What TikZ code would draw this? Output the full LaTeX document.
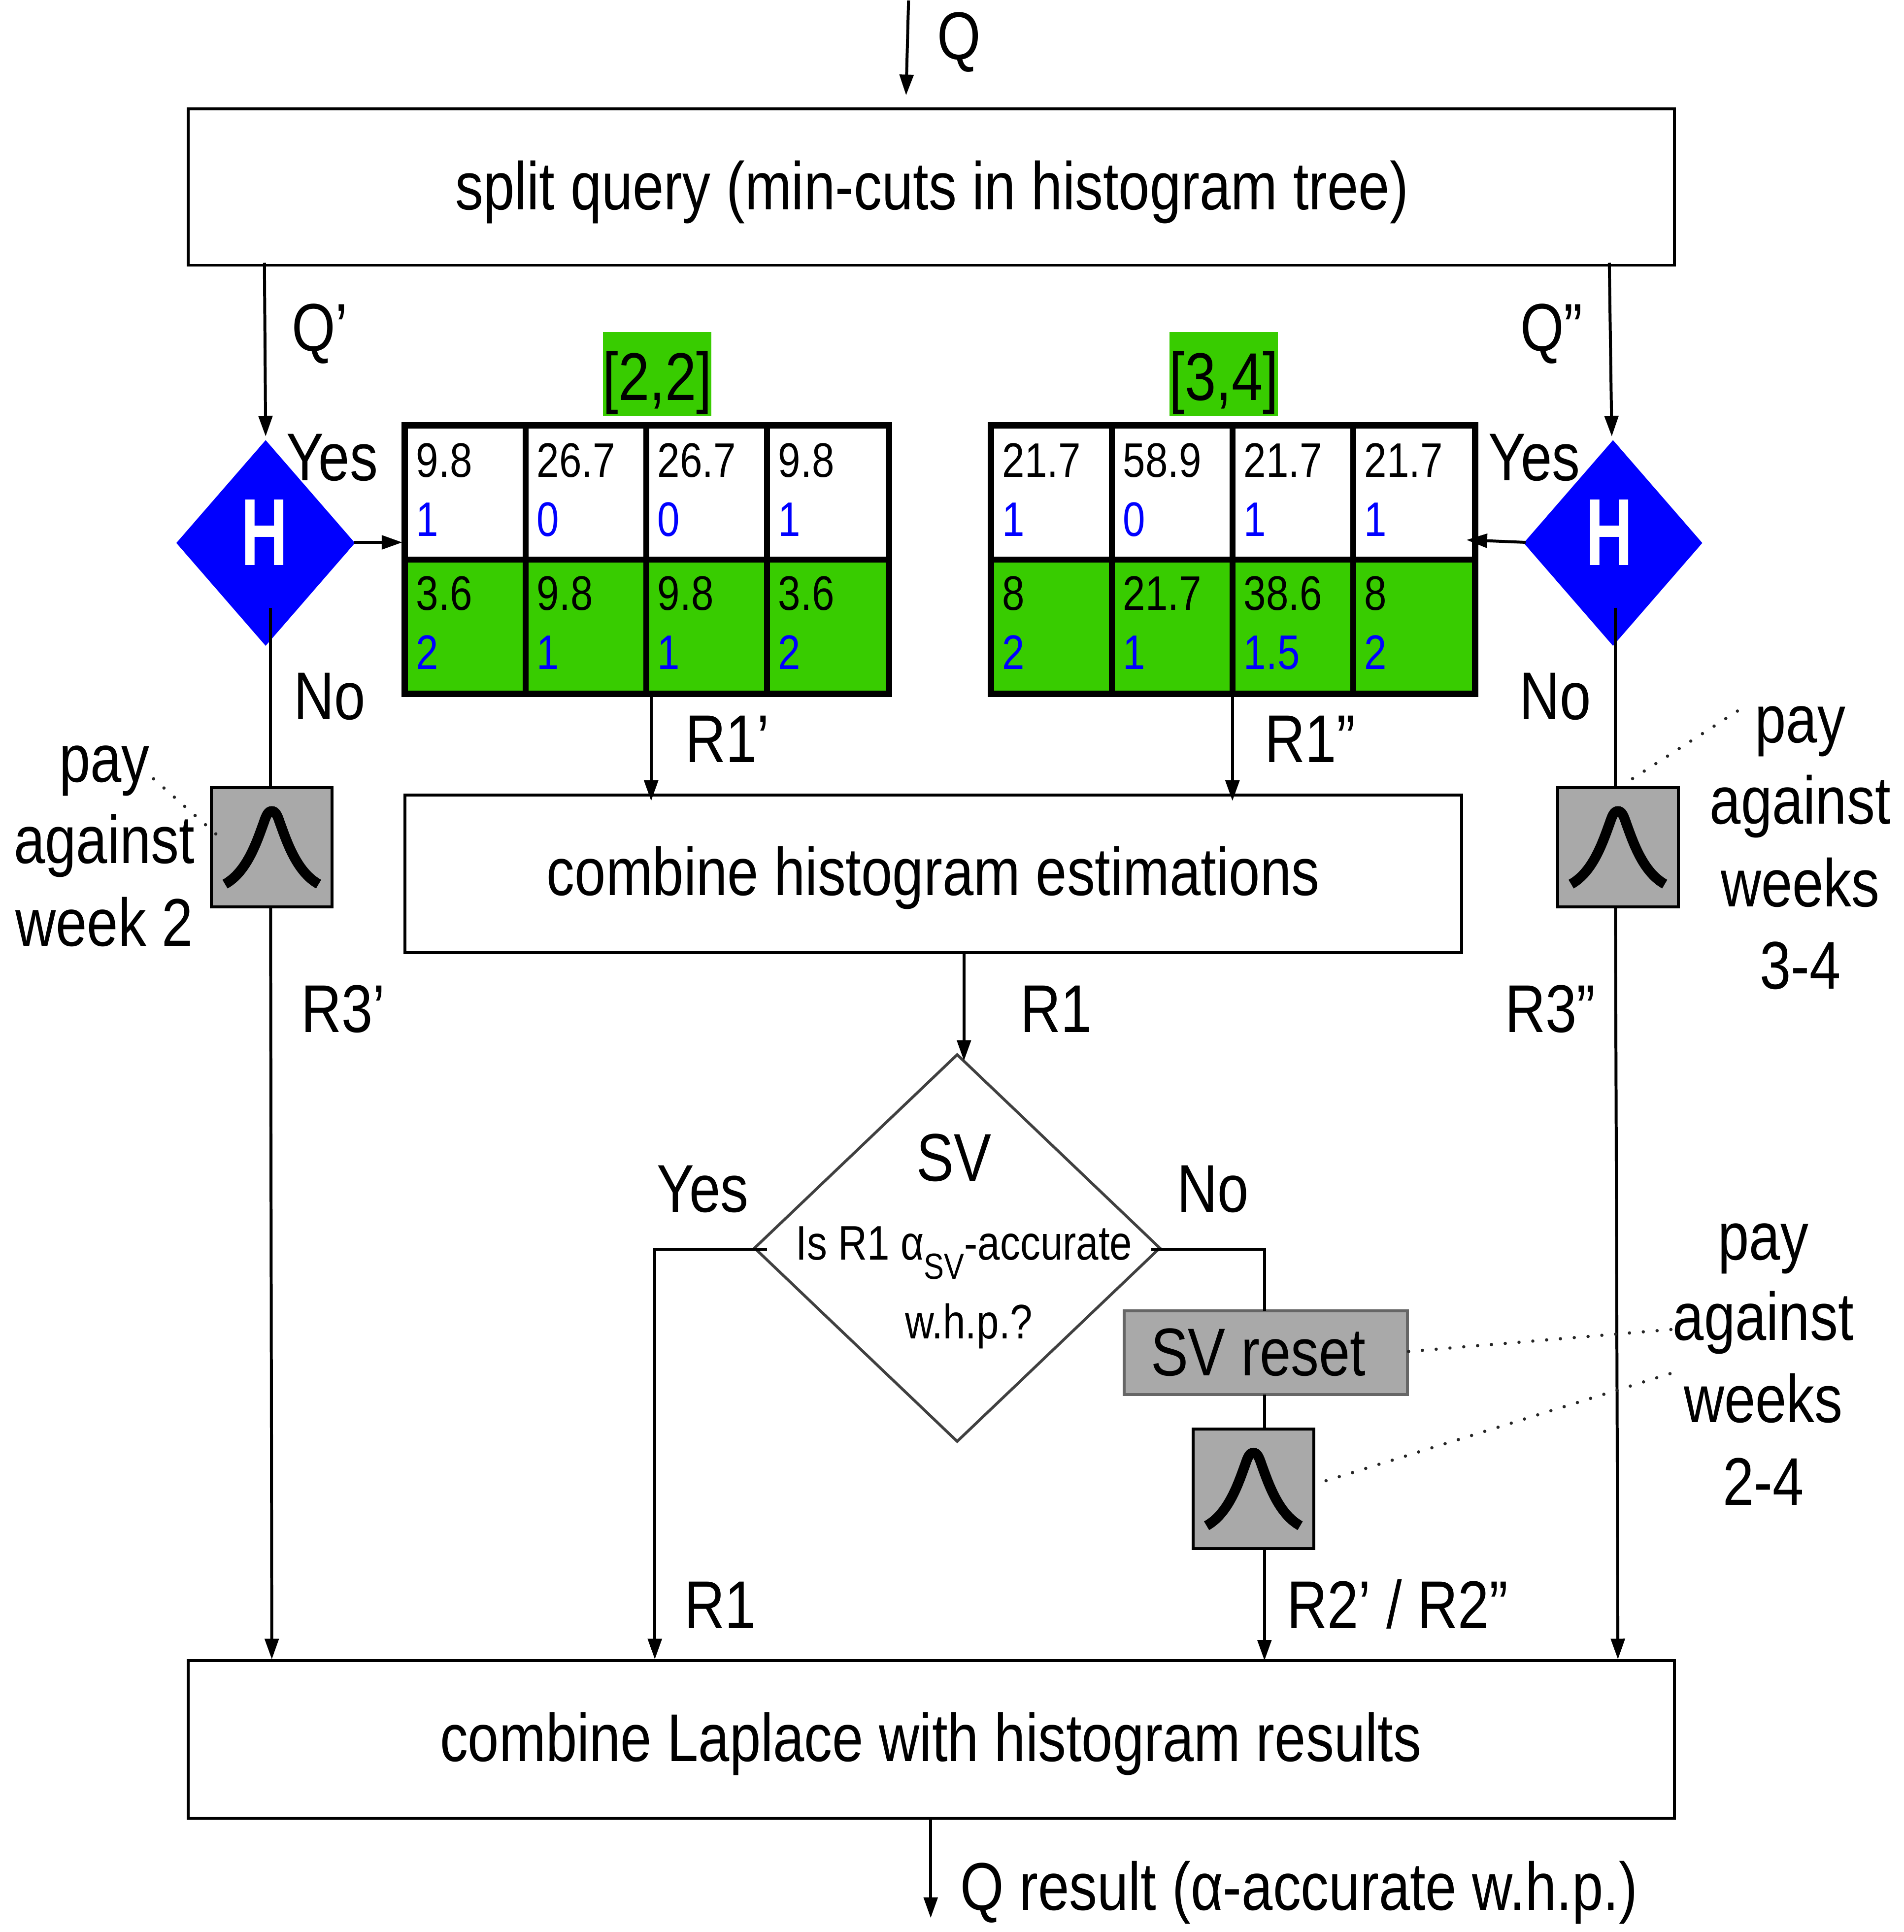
\documentclass[tikz,border=0pt]{standalone}
\usepackage{fontspec}
\setmainfont[FakeStretch=0.83]{Liberation Sans}
\newfontfamily\hfont[FakeStretch=0.68]{Liberation Sans Bold}
\usetikzlibrary{arrows.meta,shapes.geometric}
\definecolor{hgreen}{HTML}{38CC00}
\definecolor{lapgray}{HTML}{A9A9A9}
\newcommand{\bigf}{\fontsize{39}{39}\selectfont}
\newcommand{\midf}{\fontsize{28}{28}\selectfont}
\newcommand{\smf}{\fontsize{28}{28}\selectfont}
\tikzset{
  x=0.025cm,y=-0.025cm,
  conn/.style={line width=1.7pt,black},
  arr/.style={conn,-{Triangle[length=.42cm,width=.28cm]}},
  dots/.style={line width=1.9pt,line cap=round,dash pattern=on 0pt off 8pt,black!85},
  bigbox/.style={draw=black,line width=1.7pt,fill=white,rectangle,inner sep=0pt,outer sep=0pt},
  lapbox/.style={draw=black,line width=1.7pt,fill=lapgray,rectangle,inner sep=0pt,outer sep=0pt,minimum width=98*0.025cm,minimum height=97*0.025cm},
  lab/.style={inner sep=0pt,font=\bigf,text height=28pt,text depth=0pt,anchor=center,yshift=1.4pt},
  cell/.style={inner sep=0pt,font=\smf,text height=20pt,text depth=0pt,anchor=west},
  qtext/.style={inner sep=0pt,font=\midf,text height=20.8pt,text depth=0pt,anchor=center,yshift=0.7pt},
  hdiam/.style={diamond,fill=blue,inner sep=0pt,outer sep=0pt,minimum width=145*0.025cm,minimum height=167*0.025cm},
  tablebox/.style={rectangle,draw=black,line width=3.6pt,inner sep=0pt,outer sep=0pt,minimum width=393*0.025cm,minimum height=218*0.025cm},
  rangebox/.style={rectangle,fill=hgreen,inner sep=0pt,outer sep=0pt,minimum width=88*0.025cm,minimum height=68*0.025cm},
}
\newcommand{\lapcurve}[1]{%
  \begin{scope}[shift={(#1.center)}]
    \draw[line width=5.8pt,line cap=butt,black] (-38,30) .. controls (-20,20) and (-12,-5) .. (-6.5,-20)
      .. controls (-4.5,-26) and (-3,-29.2) .. (0,-29.2)
      .. controls (3,-29.2) and (4.5,-26) .. (6.5,-20)
      .. controls (12,-5) and (20,20) .. (38,30);
  \end{scope}}
\newcommand{\hist}[3]{% #1 name, #2 left x, #3 list
  \fill[hgreen] (#2,454) rectangle ++(393,109);
  \node[tablebox,anchor=north west] (#1) at (#2,345) {};
  \draw[line width=3.6pt] (#2,454) -- ++(393,0);
  \foreach \i in {98,196,294} \draw[line width=3.3pt] (#2+\i,345) -- (#2+\i,563);
  \foreach \i/\a/\b/\c/\d in {#3} {
    \node[cell] at (#2+98*\i+9,373) {\a};
    \node[cell,blue] at (#2+98*\i+9,421) {\b};
    \node[cell] at (#2+98*\i+9,481) {\c};
    \node[cell,blue] at (#2+98*\i+9,529) {\d};
  }}
\begin{document}
\begin{tikzpicture}
\useasboundingbox (0,0) rectangle (1545.6,1568.8);
\fill[white] (0,0) rectangle (1545.6,1568.8);
\begin{scope}[xshift=0.7*0.025cm,yshift=-0.4*0.025cm]

% boxes
\node[bigbox,anchor=north west,minimum width=1207*0.025cm,minimum height=127*0.025cm] (split) at (152,88) {};
\node[lab] at (756,152) {split query (min-cuts in histogram tree)};
\node[bigbox,anchor=north west,minimum width=858*0.025cm,minimum height=128*0.025cm] (combH) at (328,645) {};
\node[lab] at (757,709) {combine histogram estimations};
\node[bigbox,anchor=north west,minimum width=1207*0.025cm,minimum height=128*0.025cm] (combL) at (152,1348) {};
\node[lab] at (755,1412) {combine Laplace with histogram results};

% histogram tables
\hist{tL}{328}{0/9.8/1/3.6/2,1/26.7/0/9.8/1,2/26.7/0/9.8/1,3/9.8/1/3.6/2}
\hist{tR}{804}{0/21.7/1/8/2,1/58.9/0/21.7/1,2/21.7/1/38.6/1.5,3/21.7/1/8/2}
\node[rangebox] (rL) at (533,303) {};
\node[rangebox] (rR) at (993,303) {};
\node[lab] at (533,307) {[2,2]};
\node[lab] at (993,307) {[3,4]};

% H diamonds
\node[hdiam] (hL) at (215,440.5) {};
\node[hdiam] (hR) at (1309,440.5) {};
\node[inner sep=0pt,white,text height=39pt,text depth=0pt] (hLt) at (214,431) {\fontsize{55}{55}\hfont H};
\node[inner sep=0pt,white,text height=39pt,text depth=0pt] (hRt) at (1306,431) {\fontsize{55}{55}\hfont H};

% Laplace boxes
\node[lapbox,anchor=north west] (lapL) at (171,639) {};
\node[lapbox,anchor=north west] (lapR) at (1264,639) {};
\node[lapbox,anchor=north west] (lapM) at (968,1160) {};
\lapcurve{lapL}\lapcurve{lapR}\lapcurve{lapM}

% SV diamond
\node[diamond,draw=black!75,line width=1.6pt,fill=white,inner sep=0pt,outer sep=0pt,minimum width=329*0.025cm,minimum height=314*0.025cm] (sv) at (776.5,1013) {};
\node[lab] at (774,941) {SV};
\node[qtext] at (782,1009) {Is R1 α\raisebox{-11pt}{\fontsize{21}{21}\selectfont SV}-accurate};
\node[qtext] at (786,1073) {w.h.p.?};

% SV reset
\node[rectangle,draw=black!60,line width=1.6pt,fill=lapgray,inner sep=0pt,outer sep=0pt,anchor=north west,minimum width=230*0.025cm,minimum height=68*0.025cm] (reset) at (912,1064) {};
\node[lab] at (1021,1099) {SV reset};

% coordinates for connector free ends
\coordinate (qtop) at (737,0);
\coordinate (qin) at (735,77);
\coordinate (qoutEnd) at (755,1557);
\coordinate (hLin) at (215,354);
\coordinate (hRin) at (1308,354);
\coordinate (hLno) at (219,493);
\coordinate (hRno) at (1311,493);
\coordinate (hLtab) at (326,440);
\coordinate (hRtab) at (1190,438);
\coordinate (svL) at (622,1014);
\coordinate (svR) at (934,1014);

% connectors
\draw[arr] (214,213) coordinate (a1) -- (hLin);
\draw[arr] (qtop) -- (qin);
\draw[arr] (1306,213) coordinate (a2) -- (hRin);
\draw[arr] (287,440) coordinate (a3) -- (hLtab);
\draw[arr] (1238,440) coordinate (a4) -- (hRtab);
\draw[conn] (hLno) -- (lapL.north -| hLno);
\draw[conn] (hRno) -- (lapR.north -| hRno);
\draw[arr] (lapL.south -| hLno) -- (220,1347) coordinate (a5);
\draw[arr] (lapR.south -| hRno) -- (1313,1347) coordinate (a6);
\draw[arr] (528,563) coordinate (a7) -- (528,650) coordinate (a8);
\draw[arr] (1000,563) coordinate (a9) -- (1000,650) coordinate (a10);
\draw[arr] (combH.south -| 782,0) -- (782,861) coordinate (a11);
\draw[arr] (svL) -- (531,1014) coordinate (a12) -- (531,1347) coordinate (a13);
\draw[conn] (svR) -- (1026,1014) coordinate (a14) -- (reset.north -| a14);
\draw[conn] (reset.south -| a14) -- (lapM.north -| a14);
\draw[arr] (lapM.south -| a14) -- (a14 |- combL.north);
\draw[arr] (combL.south -| 755,0) -- (qoutEnd);

% dotted
\draw[dots] (124,632) -- (176,678);
\draw[dots] (1410,577) -- (1320,635);
\draw[dots] (1143,1097) -- (1358,1079);
\draw[dots] (1076,1202) -- (1365,1112);

% labels
\node[lab] at (778,30) {Q};
\node[lab] at (259,267) {Q’};
\node[lab] at (1259,267) {Q”};
\node[lab] at (269,372) {Yes};
\node[lab] at (1245,372) {Yes};
\node[lab] at (267,566) {No};
\node[lab] at (1262,566) {No};
\node[lab] at (590,601) {R1’};
\node[lab] at (1063,601) {R1”};
\node[lab] at (857,820) {R1};
\node[lab] at (278,820) {R3’};
\node[lab] at (1258,820) {R3”};
\node[lab] at (570,966) {Yes};
\node[lab] at (984,966) {No};
\node[lab] at (584,1304) {R1};
\node[lab] at (1134,1304) {R2’ / R2”};
\node[lab] at (1054,1533) {Q result (α-accurate w.h.p.)};
\foreach \t/\y in {pay/617,against/683,week 2/750} \node[lab] at (84,\y) {\t};
\foreach \t/\y in {pay/585,against/651,weeks/718,3-4/785} \node[lab] at (1461,\y) {\t};
\foreach \t/\y in {pay/1005,against/1070,weeks/1137,2-4/1204} \node[lab] at (1431,\y) {\t};
\end{scope}
\end{tikzpicture}
\end{document}
